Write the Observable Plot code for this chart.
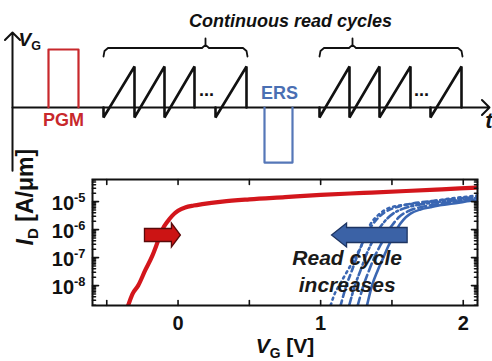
<!DOCTYPE html>
<html><head><meta charset="utf-8">
<script src="https://cdn.jsdelivr.net/npm/d3@7"></script>
<script src="https://cdn.jsdelivr.net/npm/@observablehq/plot@0.6"></script>
<style>
html,body{margin:0;padding:0;background:#fff;}
#chart{width:492px;height:361px;overflow:hidden;}
#chart svg{display:block;}
</style></head><body><div id="chart"></div>
<script>
const FONT = "'Liberation Sans', Arial, Helvetica, sans-serif";

// ---------- top schematic (time t, gate voltage v in arbitrary units) ----------
const axesArrows = [
  {t1: 0, v1: -1.09, t2: 0, v2: 1.293},
  {t1: 0, v1: 0, t2: 47.7, v2: 0}
];
const pgmPulse = [[3.6, 0], [3.6, 1.0], [6.6, 1.0], [6.6, 0]];
const ersPulse = [[25.2, 0], [25.2, -0.95], [28.0, -0.95], [28.0, 0]];
const readLow = -0.172, readHigh = 0.707;
const readGroups = [
  {teeth: [9.1, 12.2, 15.2, 18.2], last: [20.3, 23.4]},
  {teeth: [30.7, 33.7, 36.7, 39.8], last: [41.8, 44.9]}
];
const readDots = [{t: 19.4, v: 0.207}, {t: 40.9, v: 0.207}];
const braces = [{t1: 9.1, t2: 23.5, tc: 19.3}, {t1: 30.7, t2: 45.0, tc: 34.0}];
const topLabels = [
  {t: 27.8, v: 1.48, text: "Continuous read cycles", color: "#111", size: 18, style: "italic", anchor: "middle"},
  {t: 0.6, v: 1.17, text: "\\i{V}_{G}", color: "#111", size: 19, style: "normal", anchor: "start"},
  {t: 5.1, v: -0.224, text: "PGM", color: "#c8282c", size: 18, style: "normal", anchor: "middle"},
  {t: 26.7, v: 0.24, text: "ERS", color: "#4a6fb3", size: 18, style: "normal", anchor: "middle"},
  {t: 48.0, v: -0.24, text: "t", color: "#111", size: 22, style: "italic", anchor: "end"}
];

// ---------- bottom I-V chart (VG in V, log10 of ID in A/um) ----------
const redCurve = [[-0.35,-8.71],[-0.32,-8.3],[-0.28,-8.0],[-0.23,-7.45],[-0.18,-6.93],[-0.14,-6.4],[-0.11,-6.0],[-0.075,-5.72],[-0.04,-5.5],[0.0,-5.33],[0.05,-5.21],[0.11,-5.14],[0.17,-5.09],[0.31,-5.0],[0.5,-4.92],[0.75,-4.84],[1.0,-4.76],[1.3,-4.69],[1.6,-4.62],[1.85,-4.56],[2.1,-4.5]];
const blueSolid = [[1.325,-8.71],[1.36,-8.0],[1.40,-7.46],[1.44,-7.0],[1.47,-6.64],[1.51,-6.25],[1.54,-5.93],[1.58,-5.65],[1.63,-5.43],[1.70,-5.28],[1.77,-5.2],[1.85,-5.12],[1.93,-5.07],[2.01,-5.0],[2.1,-4.95]];
const blueDash1 = [[1.26,-8.71],[1.30,-8.0],[1.34,-7.45],[1.38,-6.95],[1.42,-6.55],[1.46,-6.15],[1.50,-5.85],[1.55,-5.55],[1.61,-5.35],[1.70,-5.2],[1.80,-5.1],[1.95,-5.0],[2.1,-4.92]];
const blueDashDot = [[1.20,-8.71],[1.24,-8.0],[1.28,-7.45],[1.32,-6.9],[1.36,-6.45],[1.40,-6.05],[1.45,-5.7],[1.51,-5.42],[1.58,-5.25],[1.68,-5.12],[1.80,-5.03],[1.95,-4.95],[2.1,-4.87]];
const blueDash2 = [[1.14,-8.71],[1.18,-8.0],[1.22,-7.45],[1.26,-6.9],[1.30,-6.4],[1.34,-6.0],[1.39,-5.65],[1.45,-5.38],[1.53,-5.2],[1.63,-5.08],[1.78,-4.98],[1.95,-4.9],[2.1,-4.83]];
const blueDot = [[1.07,-8.71],[1.09,-8.4],[1.14,-7.9],[1.19,-7.46],[1.24,-7.0],[1.28,-6.64],[1.31,-6.25],[1.35,-5.8],[1.40,-5.5],[1.47,-5.25],[1.58,-5.12],[1.70,-5.05],[1.90,-4.9],[2.1,-4.78]];
const blueSeries = [
  {pts: blueSolid, dash: null},
  {pts: blueDash1, dash: "8,4"},
  {pts: blueDashDot, dash: "8,3,2,3"},
  {pts: blueDash2, dash: "5,4"},
  {pts: blueDot, dash: "2,4"}
];
const xDomain = [-0.60, 2.1];
const yDomainLog = [-8.71, -4.21];
const xTicks = [-0.5, 0, 0.5, 1, 1.5, 2];
const xTickLabels = [0, 1, 2];
const yTickExps = [-8, -7, -6, -5];
const shiftArrows = [
  {x1: -0.232, x2: 0.02, logI: -6.21, fill: "#cc1414", stroke: "#5a0a0a", body: 6.5, head: 12, headLen: 9},
  {x1: 1.61, x2: 1.08, logI: -6.21, fill: "#3b62a6", stroke: "#1d3461", body: 7.5, head: 12, headLen: 15}
];
const noteText = {x: 1.186, logI: -7.45, text: "Read cycle\nincreases"};
const xTitle = "\\i{V}_{G} [V]";
const yTitle = "\\i{I}_{D} [A/\u03bcm]";

// ---------- helpers ----------
function buildWave(groups) {
  const out = [];
  groups.forEach((g, gi) => {
    const n = g.teeth.length;
    out.push({t: g.teeth[0], v: 0, z: gi + "a"}, {t: g.teeth[0], v: readLow, z: gi + "a"});
    for (let i = 1; i < n; i++) {
      out.push({t: g.teeth[i], v: readHigh, z: gi + "a"});
      out.push({t: g.teeth[i], v: i === n - 1 ? 0 : readLow, z: gi + "a"});
    }
    out.push({t: g.last[0], v: 0, z: gi + "b"}, {t: g.last[0], v: readLow, z: gi + "b"},
             {t: g.last[1], v: readHigh, z: gi + "b"}, {t: g.last[1], v: 0, z: gi + "b"});
  });
  return out;
}
function buildBraces(list) {
  const out = [];
  const lo = 0.879, mid = 1.026, hi = 1.19;
  list.forEach((b, i) => {
    [[b.t1, lo], [b.t1 + 0.1, 0.975], [b.t1 + 0.45, mid], [b.tc - 0.35, mid], [b.tc, 1.08], [b.tc, hi],
     [b.tc, 1.08], [b.tc + 0.35, mid], [b.t2 - 0.45, mid], [b.t2 - 0.1, 0.975], [b.t2, lo]]
      .forEach(p => out.push({t: p[0], v: p[1], z: i}));
  });
  return out;
}
const tickShape = {draw(ctx, l) { ctx.moveTo(0, 0); ctx.lineTo(0, -l); }};

function blockArrows(index, scales) {
  const g = d3.create("svg:g");
  for (const a of shiftArrows) {
    const x1 = scales.x(a.x1), x2 = scales.x(a.x2), y = scales.y(10 ** a.logI);
    const dir = Math.sign(x2 - x1);
    const xb = x2 - dir * a.headLen;
    const pts = [[x1, y - a.body], [xb, y - a.body], [xb, y - a.head], [x2, y], [xb, y + a.head], [xb, y + a.body], [x1, y + a.body]];
    g.append("path").attr("d", "M" + pts.map(p => p.join(",")).join("L") + "Z")
      .attr("fill", a.fill).attr("stroke", a.stroke).attr("stroke-width", 1.3).attr("stroke-linejoin", "miter");
  }
  return g.node();
}

// ---------- top plot ----------
const waveData = buildWave(readGroups);
const braceData = buildBraces(braces);
const topPlot = Plot.plot({
  width: 492, height: 170, margin: 0,
  x: {domain: [-1.2, 48.0], range: [0, 492], axis: null},
  y: {domain: [-1.086, 1.845], range: [170, 0], axis: null},
  style: {fontFamily: FONT, background: "#fff", overflow: "visible"},
  marks: [
    Plot.arrow(axesArrows, {x1: "t1", y1: "v1", x2: "t2", y2: "v2", stroke: "#111", strokeWidth: 2, headLength: 8, headAngle: 90}),
    Plot.line(pgmPulse, {x: d => d[0], y: d => d[1], stroke: "#c8282c", strokeWidth: 2.2}),
    Plot.line(ersPulse, {x: d => d[0], y: d => d[1], stroke: "#5577b8", strokeWidth: 2.2}),
    Plot.line(waveData, {x: "t", y: "v", z: "z", stroke: "#111", strokeWidth: 2.6, strokeLinejoin: "miter"}),
    Plot.line(braceData, {x: "t", y: "v", z: "z", stroke: "#111", strokeWidth: 1.8}),
    Plot.text(readDots, {x: "t", y: "v", text: () => "...", fontSize: 18, fontWeight: "bold", fill: "#111", lineAnchor: "bottom"}),
    ...topLabels.map(l => Plot.text([l], {x: "t", y: "v", text: "text", fill: "color", fontSize: l.size, fontWeight: "bold", fontStyle: l.style, textAnchor: l.anchor}))
  ]
});

// ---------- bottom plot ----------
const yMinor = [];
for (let e = -9; e <= -5; e++) for (let m = 2; m <= 9; m++) {
  const v = Math.log10(m) + e;
  if (v > yDomainLog[0] && v < yDomainLog[1]) yMinor.push(10 ** v);
}
const yMajor = yTickExps.map(e => 10 ** e);
const lineOf = pts => pts.map(p => ({V: p[0], I: 10 ** p[1]}));
const tickOpts = {shape: tickShape, anchor: "start", stroke: "#111", strokeWidth: 1.6};

const bottomPlot = Plot.plot({
  width: 492, height: 191,
  marginTop: 9, marginBottom: 56, marginLeft: 92, marginRight: 15,
  x: {domain: xDomain, axis: null},
  y: {type: "log", domain: yDomainLog.map(v => 10 ** v), axis: null},
  style: {fontFamily: FONT, background: "#fff", overflow: "visible"},
  marks: [
    ...blueSeries.map(s => Plot.line(lineOf(s.pts), {x: "V", y: "I", stroke: "#3a66b2", strokeWidth: 2.6, strokeDasharray: s.dash, clip: true, curve: "monotone-x"})),
    Plot.line(lineOf(redCurve), {x: "V", y: "I", stroke: "#d3161c", strokeWidth: 4.2, clip: true, curve: "monotone-x"}),
    Plot.text([noteText], {x: "x", y: d => 10 ** d.logI, text: "text", fontSize: 21, fontWeight: "bold", fontStyle: "italic", fill: "#1a1a1a", lineHeight: 1.29}),
    blockArrows,
    Plot.frame({stroke: "#111", strokeWidth: 2}),
    Plot.vectorX(xTicks, {...tickOpts, frameAnchor: "bottom", length: 5, rotate: 0}),
    Plot.vectorX(xTicks, {...tickOpts, frameAnchor: "top", length: 5, rotate: 180}),
    Plot.vectorY(yMajor, {...tickOpts, frameAnchor: "left", length: 6, rotate: 90}),
    Plot.vectorY(yMinor, {...tickOpts, frameAnchor: "left", length: 3, rotate: 90}),
    Plot.vectorY(yMajor, {...tickOpts, frameAnchor: "right", length: 6, rotate: -90}),
    Plot.vectorY(yMinor, {...tickOpts, frameAnchor: "right", length: 3, rotate: -90}),
    Plot.text(xTickLabels, {x: d => d, frameAnchor: "bottom", lineAnchor: "top", dy: 10, text: d => String(d), fontSize: 20, fontWeight: "bold", fill: "#111"}),
    Plot.text(yTickExps, {y: d => 10 ** d, frameAnchor: "left", textAnchor: "end", dx: -7, dy: 2, text: d => `10^{${d}}`, fontSize: 20, fontWeight: "bold", fill: "#111"}),
    Plot.text([xTitle], {frameAnchor: "bottom", lineAnchor: "top", dy: 33, text: d => d, fontSize: 21, fontWeight: "bold", fill: "#111"}),
    Plot.text([yTitle], {frameAnchor: "left", rotate: -90, dx: -67, dy: 3, text: d => d, fontSize: 23, fontWeight: "bold", fill: "#111"})
  ]
});

const chart = document.getElementById("chart");
chart.appendChild(topPlot);
chart.appendChild(bottomPlot);

// rich text: \i{..} italic, _{..} subscript, ^{..} superscript
function rich(root) {
  const ns = "http://www.w3.org/2000/svg";
  const re = /(\\i\{[^}]*\}|_\{[^}]*\}|\^\{[^}]*\})/;
  root.querySelectorAll("text").forEach(t => {
    if (t.querySelector("tspan")) return;
    const src = t.textContent;
    if (!re.test(src)) return;
    const fs = parseFloat(getComputedStyle(t).fontSize) || 16;
    t.textContent = "";
    let cur = 0;
    src.split(/(\\i\{[^}]*\}|_\{[^}]*\}|\^\{[^}]*\})/).forEach(part => {
      if (!part) return;
      const ts = document.createElementNS(ns, "tspan");
      let txt = part, target = 0;
      if (part.startsWith("\\i{")) { txt = part.slice(3, -1); ts.setAttribute("font-style", "italic"); }
      else if (part.startsWith("_{")) { txt = part.slice(2, -1); ts.setAttribute("font-size", (fs * 0.66) + "px"); target = fs * 0.24; }
      else if (part.startsWith("^{")) { txt = part.slice(2, -1); ts.setAttribute("font-size", (fs * 0.64) + "px"); target = -fs * 0.42; }
      if (target - cur !== 0) ts.setAttribute("dy", (target - cur) + "px");
      cur = target;
      ts.textContent = txt;
      t.appendChild(ts);
    });
  });
}
rich(chart);
</script></body></html>
